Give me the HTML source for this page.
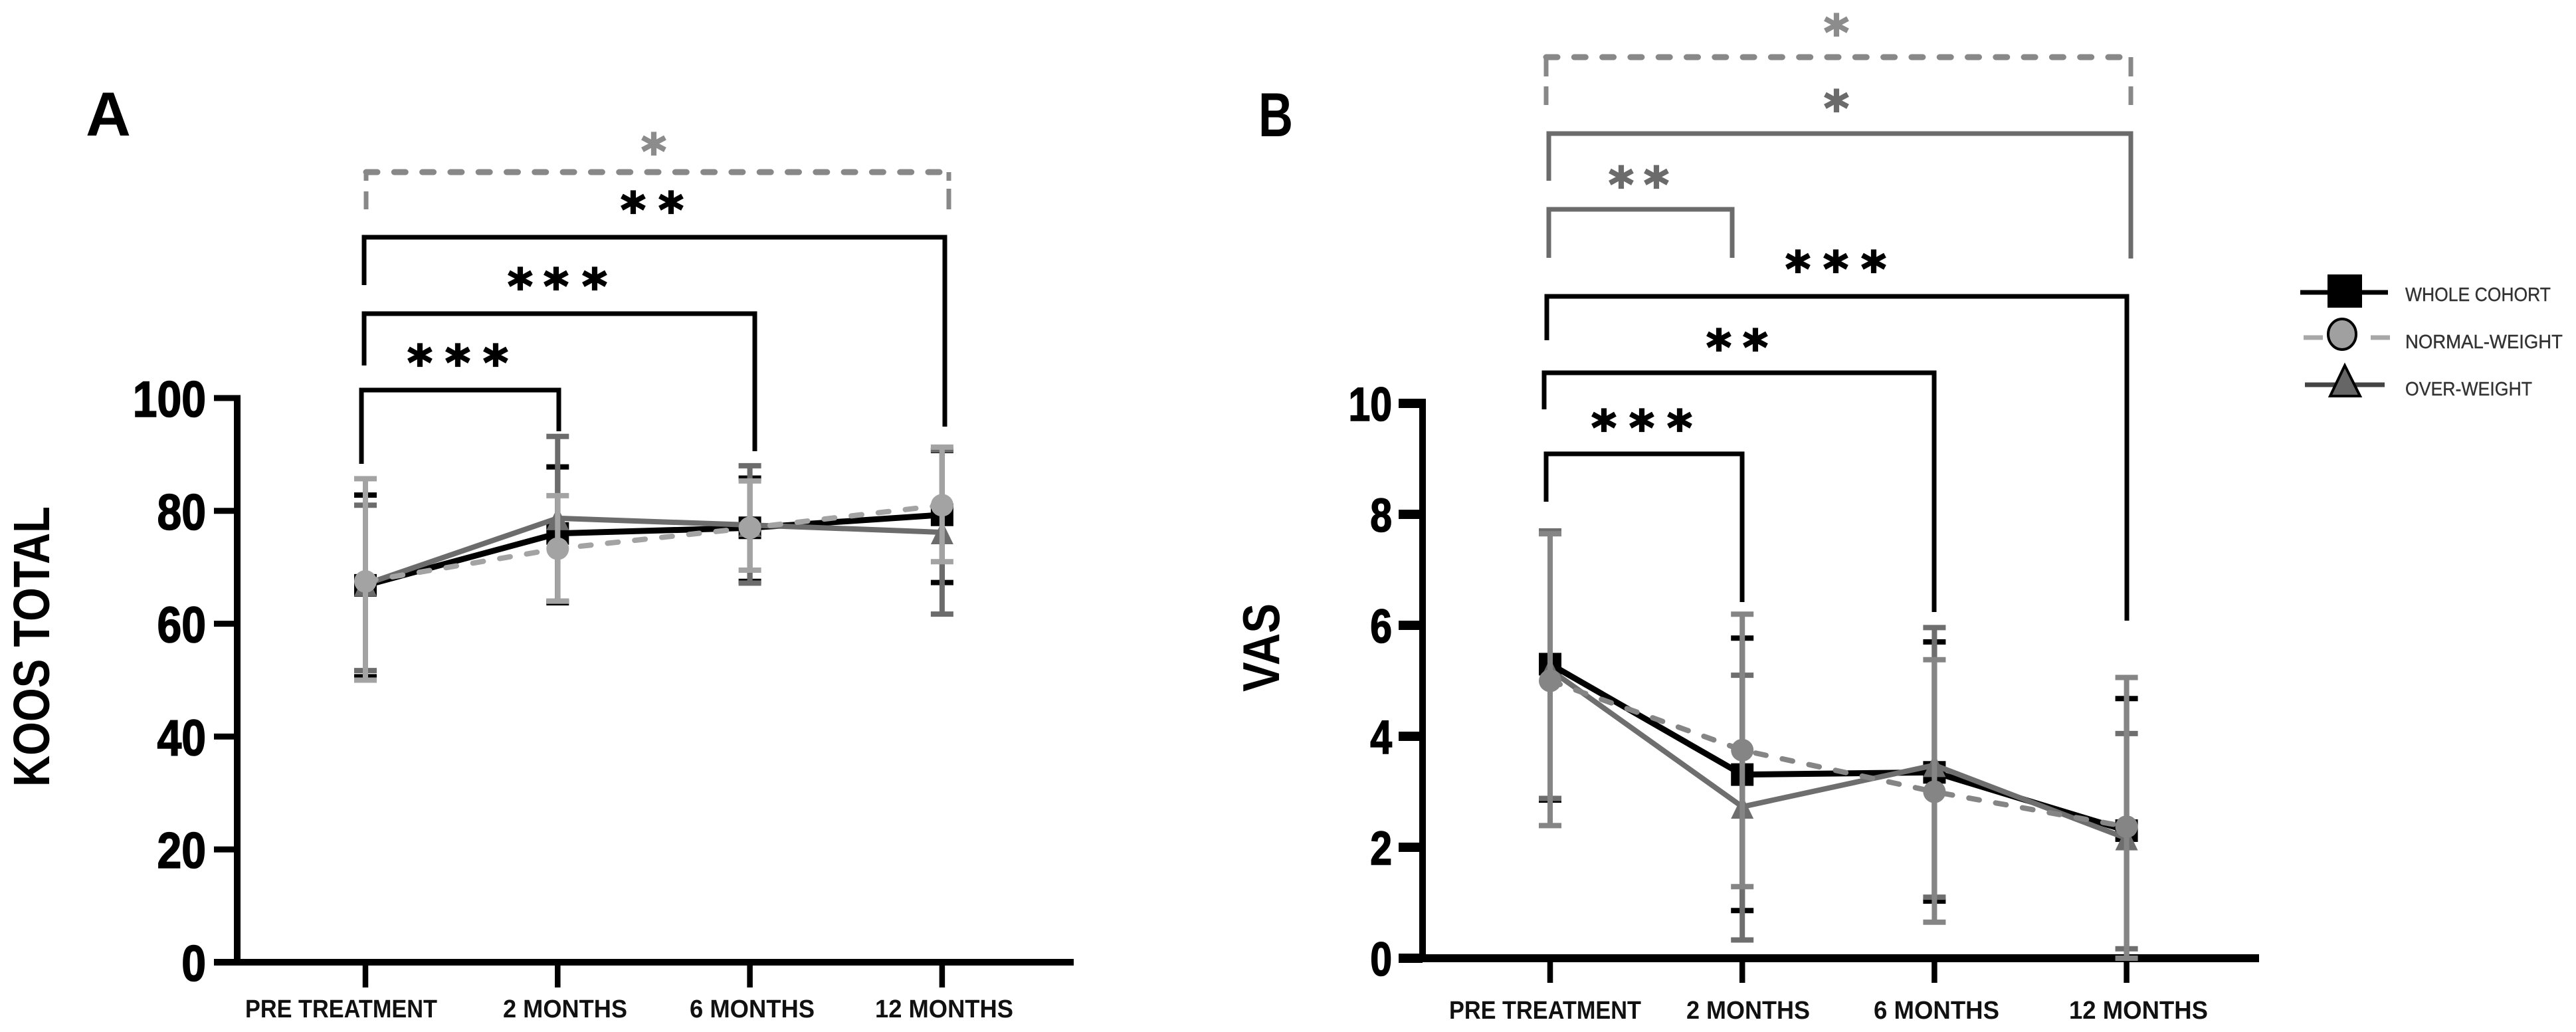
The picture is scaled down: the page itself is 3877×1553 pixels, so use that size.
<!DOCTYPE html>
<html lang="en">
<head>
<meta charset="utf-8">
<title>KOOS Total and VAS over time</title>
<style>
html,body{margin:0;padding:0;background:#fff;}
svg{display:block;font-family:"Liberation Sans",sans-serif;}
.br{fill:none;stroke-linejoin:miter;stroke-linecap:butt;stroke-width:7;}
.dash{fill:none;stroke:#888;stroke-width:9;stroke-dasharray:17 25.3;stroke-linecap:round;}
.dashv{fill:none;stroke:#888;stroke-width:7;}
.star{font-family:"DejaVu Sans",sans-serif;font-weight:bold;font-size:72px;text-anchor:middle;stroke:#000;stroke-width:2.2;}
.leg{font-size:29px;fill:#333;stroke:#333;stroke-width:.4;}
</style>
</head>
<body>
<svg id="fig" width="3877" height="1553" viewBox="0 0 3877 1553" xmlns="http://www.w3.org/2000/svg">
<rect width="3877" height="1553" fill="#fff"/>

<text x="163" y="204" font-size="94" font-weight="bold" text-anchor="middle">A</text>
<text x="1920" y="205" font-size="94" font-weight="bold" text-anchor="middle" textLength="52" lengthAdjust="spacingAndGlyphs">B</text>

<g id="panelA"></g>
<g id="panelB"></g>

<g>
  <path class="dash" d="M551 259H1428"/>
  <path class="dashv" d="M551 259V272M551 288V315M1428 259V272M1428 284V315"/>
  <text class="star" x="984" y="253" fill="#8c8c8c" style="stroke:#8c8c8c">*</text>
  <path class="br" d="M548 429V357H1422V642" stroke="#000"/>
  <text class="star" y="341"><tspan x="953">*</tspan><tspan x="1010">*</tspan></text>
  <path class="br" d="M548 550V472H1136V679" stroke="#000"/>
  <text class="star" y="456"><tspan x="783">*</tspan><tspan x="837">*</tspan><tspan x="895">*</tspan></text>
  <path class="br" d="M544 698V587H841V649" stroke="#000"/>
  <text class="star" y="571"><tspan x="632">*</tspan><tspan x="689">*</tspan><tspan x="746">*</tspan></text>
</g>

<g>
  <path class="dash" d="M2327 86H3207"/>
  <path class="dashv" d="M2327 86V115M2327 130V158M3207 86V115M3207 130V158"/>
  <text class="star" x="2764" y="74" fill="#8c8c8c" style="stroke:#8c8c8c">*</text>
  <path class="br" d="M2331 272V201H3207V389" stroke="#6b6b6b"/>
  <text class="star" x="2764" y="188" fill="#6b6b6b" style="stroke:#6b6b6b">*</text>
  <path class="br" d="M2331 388V315H2607V388" stroke="#6b6b6b"/>
  <text class="star" y="303" fill="#6b6b6b" style="stroke:#6b6b6b"><tspan x="2440">*</tspan><tspan x="2493">*</tspan></text>
  <path class="br" d="M2328 512V446H3201V934" stroke="#000"/>
  <text class="star" y="430"><tspan x="2706">*</tspan><tspan x="2763">*</tspan><tspan x="2820">*</tspan></text>
  <path class="br" d="M2324 616V561H2911V921" stroke="#000"/>
  <text class="star" y="548"><tspan x="2587">*</tspan><tspan x="2642">*</tspan></text>
  <path class="br" d="M2327 755V683H2622V906" stroke="#000"/>
  <text class="star" y="669"><tspan x="2414">*</tspan><tspan x="2471">*</tspan><tspan x="2528">*</tspan></text>
</g>

<g>
  <g>
    <path d="M3462 440H3594" stroke="#000" stroke-width="7"/>
    <rect x="3503" y="413" width="52" height="50" fill="#000"/>
    <text class="leg" x="3620" y="453" textLength="219" lengthAdjust="spacingAndGlyphs">WHOLE COHORT</text>
  </g>
  <g>
    <path d="M3467 508H3496M3568 508H3597" stroke="#a8a8a8" stroke-width="7"/>
    <ellipse cx="3525" cy="503" rx="21" ry="23" fill="#a0a0a0" stroke="#000" stroke-width="4"/>
    <text class="leg" x="3620" y="524" textLength="237" lengthAdjust="spacingAndGlyphs">NORMAL-WEIGHT</text>
  </g>
  <g>
    <path d="M3469 579H3589" stroke="#444" stroke-width="7"/>
    <path d="M3529 550L3552 596H3507Z" fill="#666" stroke="#000" stroke-width="4"/>
    <text class="leg" x="3620" y="595" textLength="191" lengthAdjust="spacingAndGlyphs">OVER-WEIGHT</text>
  </g>
</g>
</svg>

<script>
// Shared categories
const categories = ['PRE TREATMENT', '2 MONTHS', '6 MONTHS', '12 MONTHS'];

// Panel A: KOOS total
const koosTicks = [0, 20, 40, 60, 80, 100];
const koosWholeMean = [66.8, 76, 77, 79.3];
const koosWholeUpper = [82.8, 87.8, 85.8, 90.7];
const koosWholeLower = [50.6, 63.7, 67.5, 67.3];
const koosNormalMean = [67.5, 73.3, 77, 81];
const koosNormalUpper = [85.7, 82.7, 85.3, 91.3];
const koosNormalLower = [50, 64, 69.5, 71];
const koosOverMean = [67, 78.7, 77.5, 76.2];
const koosOverUpper = [81, 93.2, 88, 90.8];
const koosOverLower = [51.7, 64, 67.2, 61.7];

// Panel B: VAS
const vasTicks = [0, 2, 4, 6, 8, 10];
const vasWholeMean = [5.3, 3.31, 3.35, 2.3];
const vasWholeUpper = [7.7, 5.77, 5.7, 4.68];
const vasWholeLower = [2.85, 0.86, 1.03, 0];
const vasNormalMean = [5, 3.75, 3, 2.37];
const vasNormalUpper = [7.65, 6.2, 5.38, 5.06];
const vasNormalLower = [2.39, 1.29, 0.65, 0];
const vasOverMean = [5.2, 2.73, 3.48, 2.16];
const vasOverUpper = [7.7, 5.1, 5.96, 4.05];
const vasOverLower = [2.88, 0.33, 1.1, 0.17];

const NS = 'http://www.w3.org/2000/svg';

function make(parent, tag, attrs) {
  const el = document.createElementNS(NS, tag);
  for (const k in attrs) el.setAttribute(k, attrs[k]);
  parent.appendChild(el);
  return el;
}

function drawPanel(cfg) {
  const root = document.getElementById(cfg.id);
  const x = function (i) { return cfg.x0 + i * cfg.dx; };
  const y = function (v) { return cfg.yBase - (v / cfg.ticks[cfg.ticks.length - 1]) * (cfg.yBase - cfg.yTop); };

  // Axes
  const yAxis = make(root, 'line', { x1: cfg.axisX, x2: cfg.axisX, y1: cfg.yTop - cfg.tickW / 2, y2: cfg.yBase, stroke: '#000', 'stroke-width': 10 });
  
  
  const xAxis = make(root, 'line', { x1: cfg.tickLeft, x2: cfg.axisRight, y1: cfg.yBase, y2: cfg.yBase, stroke: '#000', 'stroke-width': cfg.xAxisW });
  
  

  cfg.ticks.forEach(function (t) {
    const tick = make(root, 'line', { x1: cfg.tickLeft, x2: cfg.axisX, y1: y(t), y2: y(t), stroke: '#000', 'stroke-width': cfg.tickW });
    
    
    const lab = make(root, 'text', {
      x: 0, y: 0, 'font-size': cfg.digitSize, 'font-weight': 'bold', 'text-anchor': 'end', stroke: '#000', 'stroke-width': 1.6,
      transform: 'translate(' + (cfg.tickLeft - cfg.digitGap) + ',' + (y(t) + cfg.digitDrop) + ') scale(' + cfg.digitScale + ',1)'
    });
    
    
    lab.textContent = String(t);
  });

  categories.forEach(function (c, i) {
    const tick = make(root, 'line', { x1: x(i), x2: x(i), y1: cfg.yBase, y2: cfg.tickBottom, stroke: '#000', 'stroke-width': 8.5 });
    
    
    const lab = make(root, 'text', {
      x: cfg.labelCenter[i], y: cfg.labelBase, 'font-size': 38, 'font-weight': 'bold', 'text-anchor': 'middle', fill: '#111',
      textLength: cfg.labelLength[i], lengthAdjust: 'spacingAndGlyphs'
    });
    
    
    lab.textContent = c;
  });

  const title = make(root, 'text', {
    x: 0, y: 0, 'font-size': cfg.titleSize, 'font-weight': 'bold', 'text-anchor': 'middle',
    textLength: cfg.titleLength, lengthAdjust: 'spacingAndGlyphs',
    transform: 'translate(' + cfg.titleX + ',' + cfg.titleY + ') rotate(-90)'
  });
  
  
  title.textContent = cfg.title;

  // Series
  cfg.series.forEach(function (s) {
    const g = make(root, 'g', {});
    
    

    const pts = s.mean.map(function (m, i) { return x(i) + ',' + y(m); }).join(' ');
    const line = make(g, 'polyline', { points: pts, fill: 'none', stroke: s.color, 'stroke-width': s.width, 'stroke-dasharray': s.dash || 'none', 'stroke-linecap': s.dash ? 'round' : 'butt', 'stroke-linejoin': 'round' });
    
    

    s.mean.forEach(function (m, i) {
      const cx = x(i), up = y(s.upper[i]), lo = y(s.lower[i]), cy = y(m);
      const err = make(g, 'path', {
        d: 'M' + (cx - 17) + ' ' + up + 'H' + (cx + 17) + 'M' + (cx - 17) + ' ' + lo + 'H' + (cx + 17) + 'M' + cx + ' ' + up + 'V' + lo,
        fill: 'none', stroke: s.color, 'stroke-width': 8
      });
      
      

      let mk;
      if (s.marker === 'square') {
        mk = make(g, 'rect', { x: cx - 17, y: cy - 17, width: 34, height: 34, fill: s.color });
      } else if (s.marker === 'circle') {
        mk = make(g, 'circle', { cx: cx, cy: cy, r: 17, fill: s.color });
      } else {
        mk = make(g, 'path', { d: 'M' + cx + ' ' + (cy - 17) + 'L' + (cx + 17) + ' ' + (cy + 18) + 'H' + (cx - 17) + 'Z', fill: s.color });
      }
      
      
    });
  });
}

drawPanel({
  id: 'panelA', title: 'KOOS TOTAL', titleX: 74, titleY: 973, titleSize: 77, titleLength: 422,
  ticks: koosTicks, x0: 550, dx: 289.3, axisX: 357, axisRight: 1616, tickLeft: 322, yBase: 1448, yTop: 599,
  tickW: 9, xAxisW: 10, tickBottom: 1486,
  digitSize: 76, digitScale: 0.87, digitGap: 12, digitDrop: 28,
  labelCenter: [513.5, 850.5, 1132, 1421], labelLength: [289, 187, 188, 208], labelBase: 1531,
  series: [
    { name: 'koos-whole-cohort', mean: koosWholeMean, upper: koosWholeUpper, lower: koosWholeLower, color: '#000', width: 9, marker: 'square' },
    { name: 'koos-over-weight', mean: koosOverMean, upper: koosOverUpper, lower: koosOverLower, color: '#6c6c6c', width: 8, marker: 'triangle' },
    { name: 'koos-normal-weight', mean: koosNormalMean, upper: koosNormalUpper, lower: koosNormalLower, color: '#a3a3a3', width: 8, dash: '16 25', marker: 'circle' }
  ]
});

drawPanel({
  id: 'panelB', title: 'VAS', titleX: 1925, titleY: 974.500, titleSize: 78, titleLength: 133,
  ticks: vasTicks, x0: 2333, dx: 289.2, axisX: 2141, axisRight: 3400, tickLeft: 2105, yBase: 1442, yTop: 607,
  tickW: 14, xAxisW: 12, tickBottom: 1479,
  digitSize: 71, digitScale: 0.83, digitGap: 10, digitDrop: 26,
  labelCenter: [2325.5, 2631, 2914.5, 3218.5], labelLength: [289, 186, 189, 209], labelBase: 1533,
  series: [
    { name: 'vas-whole-cohort', mean: vasWholeMean, upper: vasWholeUpper, lower: vasWholeLower, color: '#000', width: 9, marker: 'square' },
    { name: 'vas-over-weight', mean: vasOverMean, upper: vasOverUpper, lower: vasOverLower, color: '#6e6e6e', width: 8, marker: 'triangle' },
    { name: 'vas-normal-weight', mean: vasNormalMean, upper: vasNormalUpper, lower: vasNormalLower, color: '#858585', width: 8, dash: '16 25', marker: 'circle' }
  ]
});
</script>
</body>
</html>
